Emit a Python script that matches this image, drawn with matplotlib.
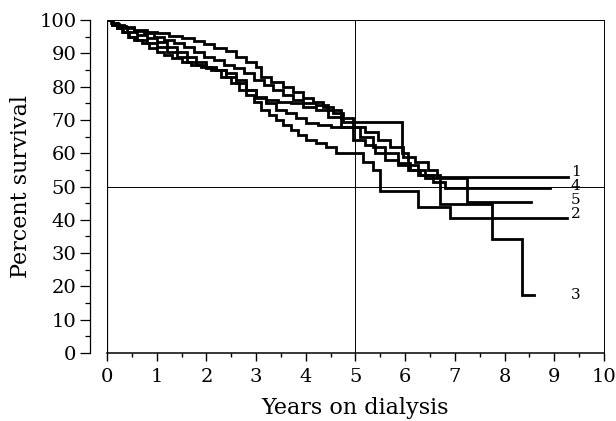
import matplotlib
matplotlib.use("Agg")
import matplotlib.pyplot as plt
from matplotlib.ticker import MultipleLocator

# Kaplan-Meier style step curves
t1 = [0, 0.1, 0.22, 0.38, 0.55, 0.75, 0.95, 1.15, 1.35, 1.55, 1.75, 1.95, 2.15, 2.35, 2.55, 2.75, 2.95,
      3.15, 3.35, 3.55, 3.75, 3.95, 4.2, 4.45, 4.7, 4.95, 5.2, 5.45, 5.7, 5.95, 6.2, 6.45, 6.65, 9.28]
s1 = [100, 99, 98.3, 97.5, 96.8, 96, 95, 94, 93, 92, 90.5, 89, 88, 86.5, 85.5, 84, 82,
      80.5, 79, 77.5, 76, 75, 74.5, 73, 70.5, 68, 66.5, 64, 62, 59, 57.5, 55, 53, 53]

t2 = [0, 0.1, 0.2, 0.3, 0.42, 0.55, 0.7, 0.85, 1.0, 1.15, 1.3, 1.5, 1.7, 1.9, 2.1, 2.3, 2.5, 2.65,
      2.8, 2.95, 3.1, 3.25, 3.4, 3.55, 3.7, 3.85, 4.0, 4.2, 4.4, 4.6, 5.15, 5.35, 5.5, 6.26, 6.9, 9.25]
s2 = [100, 98.5, 97.5, 96.5, 95, 94, 93, 91.5, 90.5, 89.5, 88.5, 87.5, 86.5, 86, 85, 83, 81, 79,
      77.5, 75.5, 73, 71.5, 70, 68.5, 67, 65.5, 64, 63, 62, 60, 57.5, 55, 48.5, 43.7, 40.6, 40.6]

t3 = [0, 0.08, 0.2, 0.35, 0.55, 0.8, 1.0, 1.25, 1.5, 1.75, 1.95, 2.15, 2.4, 2.6, 2.8, 3.0, 3.1,
      3.3, 3.55, 3.75, 3.95, 4.15, 4.35, 4.55, 4.75, 5.93, 6.05, 6.25, 6.7, 7.75, 8.35, 8.6]
s3 = [100, 99.2, 98.5, 97.8, 97.0, 96.5, 96.0, 95.3, 94.5, 93.6, 92.8, 91.6, 90.6, 89.0, 87.5, 86.0, 83.0,
      81.5, 80.0, 78.5, 76.5, 75.5, 74.0, 72.0, 69.3, 60.0, 56.5, 53.6, 44.6, 34.3, 17.5, 17.5]

t4 = [0, 0.12, 0.25, 0.4, 0.6, 0.8, 1.0, 1.2, 1.4, 1.6, 1.8, 2.0, 2.2, 2.4, 2.6, 2.8, 3.0, 3.2,
      3.45, 3.7, 3.95, 4.2, 4.45, 4.7, 4.95, 5.2, 5.4, 5.6, 5.85, 6.05, 6.3, 6.55, 6.8, 8.91]
s4 = [100, 98.8, 97.8, 96.5, 95.5, 94.5, 93.5, 92, 90.5, 89, 87.5, 86, 85, 83, 81, 79, 77, 76,
      75.5, 75, 74, 73, 71, 68, 64, 62.5, 60, 58, 56.5, 55, 53.5, 51.5, 49.7, 49.7]

t5 = [0, 0.1, 0.2, 0.32, 0.45, 0.6, 0.8, 1.0, 1.2, 1.4, 1.6, 1.8, 2.0, 2.2, 2.4, 2.6, 2.8, 3.0,
      3.2, 3.4, 3.6, 3.8, 4.0, 4.25, 4.5, 4.75, 5.1, 5.35, 5.6, 5.85, 6.1, 6.4, 7.24, 8.53]
s5 = [100, 98.5, 97.5, 96.3, 95, 94, 93, 92, 90.5, 89, 87.5, 86.5, 85.5, 85, 84, 82, 79, 76.5,
      75, 73, 72, 70.5, 69, 68.5, 68, 67.8, 65, 62, 60, 57, 55, 52.5, 45.2, 45.2]

curve_names = ["1", "2", "3", "4", "5"]
label_y = [54.3, 41.6, 17.4, 50.1, 45.9]

plt.rcParams["font.family"] = "DejaVu Serif"

fig = plt.figure(figsize=(6.16, 4.21), dpi=100)
ax = fig.add_axes([0.1737, 0.1615, 0.8068, 0.791])

for t, s in zip([t1, t2, t3, t4, t5], [s1, s2, s3, s4, s5]):
    ax.plot(t, s, drawstyle="steps-post", color="black", lw=2.0, solid_joinstyle="miter")

for name, y in zip(curve_names, label_y):
    ax.text(9.33, y, name, fontsize=11, ha="left", va="center")

# reference cross at 5 years / 50 percent
ax.axvline(5, color="black", lw=0.7)
ax.axhline(50, color="black", lw=0.7)
# box left edge (left spine is pushed outward)
ax.axvline(0, color="black", lw=0.9)

ax.set_xlim(0, 10)
ax.set_ylim(0, 100)
ax.spines["left"].set_position(("outward", 12))
for side in ["top", "right"]:
    ax.spines[side].set_linewidth(0.7)
ax.spines["left"].set_linewidth(0.9)
ax.spines["bottom"].set_linewidth(1.1)

ax.xaxis.set_major_locator(MultipleLocator(1))
ax.xaxis.set_minor_locator(MultipleLocator(0.5))
ax.yaxis.set_major_locator(MultipleLocator(10))
ax.yaxis.set_minor_locator(MultipleLocator(5))
ax.tick_params(axis="x", which="major", length=6, width=1, labelsize=14, pad=5)
ax.tick_params(axis="x", which="minor", length=3, width=1)
ax.tick_params(axis="y", which="major", length=7, width=0.9, labelsize=14, pad=3)
ax.tick_params(axis="y", which="minor", length=3.5, width=0.9)

ax.set_xlabel("Years on dialysis", fontsize=16, labelpad=8)
ax.set_ylabel("Percent survival", fontsize=16, labelpad=5)

fig.savefig("out.png", dpi=100)
